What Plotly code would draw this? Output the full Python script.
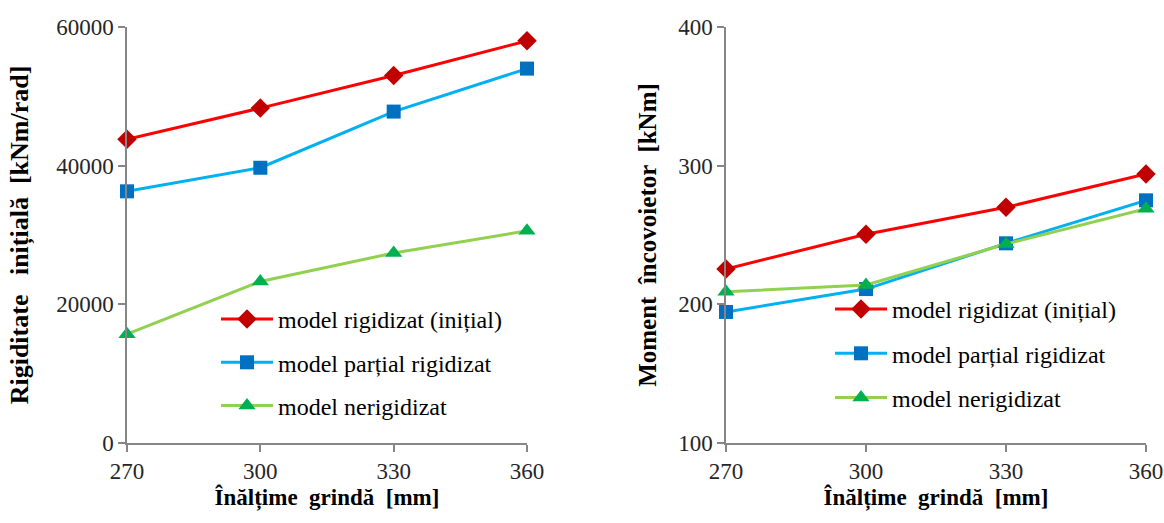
import plotly.graph_objects as go

heights = [270, 300, 330, 360]
names = ["model rigidizat (inițial)", "model parțial rigidizat", "model nerigidizat"]
stiff_rigid = [43800, 48300, 53000, 58000]
stiff_partial = [36300, 39700, 47800, 54000]
stiff_none = [15700, 23300, 27400, 30600]
mom_rigid = [225.5, 250.5, 270, 294]
mom_partial = [194.5, 211, 244, 275]
mom_none = [209, 214, 243.5, 269]

line_colors = ["#FF0000", "#00B0F0", "#92D050"]
marker_colors = ["#C00000", "#0070C0", "#00B050"]
symbols = ["diamond", "square", "triangle-up"]
msizes = [15, 14, 15]

FONT = "Liberation Serif"
fig = go.Figure()

for i, ys in enumerate([stiff_rigid, stiff_partial, stiff_none]):
    fig.add_trace(go.Scatter(x=heights, y=ys, name=names[i], mode="lines+markers", cliponaxis=False,
                             line=dict(color=line_colors[i], width=3),
                             marker=dict(symbol=symbols[i], size=msizes[i], color=marker_colors[i]),
                             xaxis="x", yaxis="y", legend="legend", legendgroup="a%d" % i))
for i, ys in enumerate([mom_rigid, mom_partial, mom_none]):
    fig.add_trace(go.Scatter(x=heights, y=ys, name=names[i], mode="lines+markers", cliponaxis=False,
                             line=dict(color=line_colors[i], width=3),
                             marker=dict(symbol=symbols[i], size=msizes[i], color=marker_colors[i]),
                             xaxis="x2", yaxis="y2", legend="legend2", legendgroup="b%d" % i))

W, H = 1164, 523
def px(x):
    return x / W
def py(y):
    return 1 - y / H

axis_common = dict(showgrid=False, zeroline=False, showline=True, linecolor="#868686", linewidth=1.5,
                   ticks="outside", ticklen=7, tickcolor="#868686", tickwidth=1.5,
                   tickfont=dict(family=FONT, size=23, color="#262626"), automargin=False,
                   tickformat="d")
title_font = dict(family=FONT, size=23, color="black")

fig.update_layout(
    width=W, height=H, margin=dict(l=0, r=0, t=0, b=0),
    paper_bgcolor="white", plot_bgcolor="white",
    font=dict(family=FONT, size=22, color="black"),
    xaxis=dict(domain=[px(127), px(527)], range=[270, 360], tickvals=heights, anchor="y",
               title=dict(text="<b>Înălțime  grindă  [mm]</b>", font=title_font, standoff=6),
               **axis_common),
    yaxis=dict(domain=[py(443), py(27)], range=[0, 60000], tickvals=[0, 20000, 40000, 60000], anchor="x",
               title=dict(text="<b>Rigiditate   inițială  [kNm/rad]</b>", font=dict(family=FONT, size=26, color="black"), standoff=20),
               **axis_common),
    xaxis2=dict(domain=[px(726), px(1146)], range=[270, 360], tickvals=heights, anchor="y2",
                title=dict(text="<b>Înălțime  grindă  [mm]</b>", font=title_font, standoff=6),
                **axis_common),
    yaxis2=dict(domain=[py(443), py(27)], range=[100, 400], tickvals=[100, 200, 300, 400], anchor="x2",
                title=dict(text="<b>Moment  încovoietor  [kNm]</b>", font=dict(family=FONT, size=25, color="black"), standoff=14),
                **axis_common),
    legend=dict(x=px(216), y=py(297), xanchor="left", yanchor="top", bgcolor="rgba(0,0,0,0)",
                font=dict(family=FONT, size=24, color="black"), tracegroupgap=9, traceorder="grouped", itemwidth=52),
    legend2=dict(x=px(830), y=py(287), xanchor="left", yanchor="top", bgcolor="rgba(0,0,0,0)",
                 font=dict(family=FONT, size=24, color="black"), tracegroupgap=10, traceorder="grouped", itemwidth=52),
    showlegend=True,
)

fig.write_html("out.html", config={"displayModeBar": False},
               post_script="document.body.style.margin='0';document.body.style.overflow='hidden';")
